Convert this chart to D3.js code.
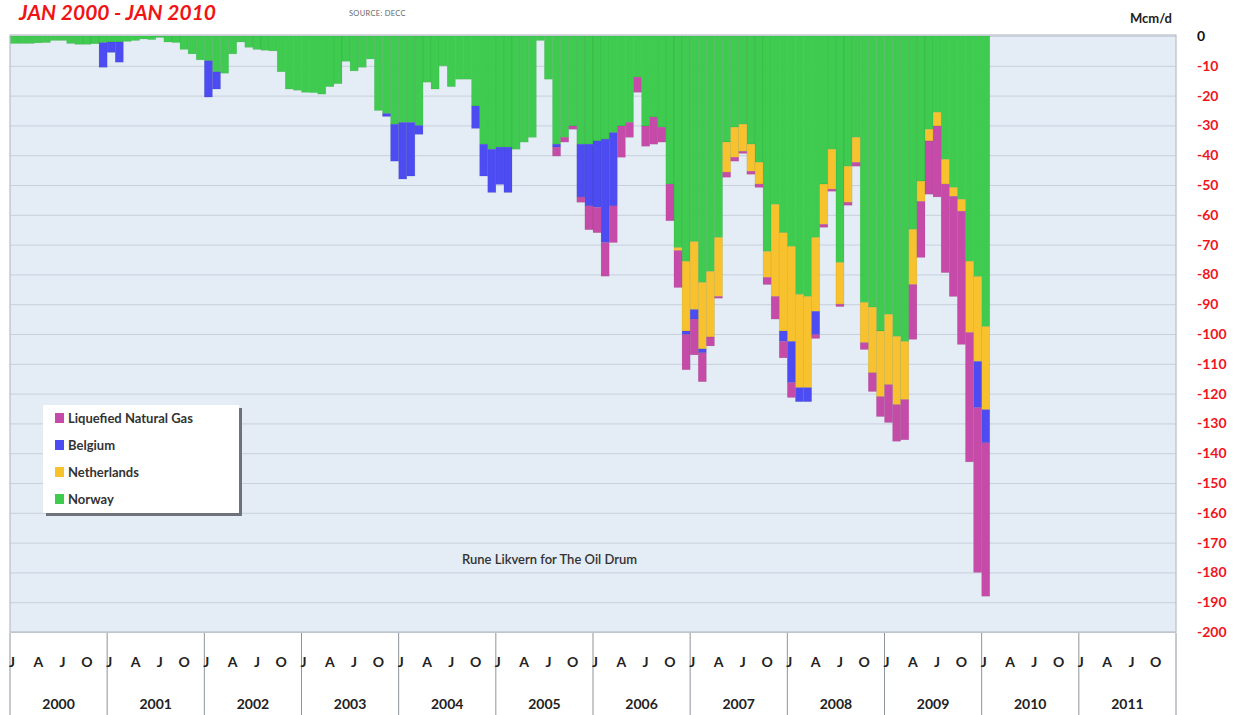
<!DOCTYPE html>
<html><head><meta charset="utf-8">
<script src="https://cdn.jsdelivr.net/npm/d3@7"></script>
<style>
body{margin:0;background:#fff;}
svg{display:block;font-family:Lato,"Open Sans","Liberation Sans",sans-serif;}
</style>
</head><body>
<svg id="c" width="1239" height="715"></svg>
<script>
// ---------- data ----------
const years = ["2000","2001","2002","2003","2004","2005","2006","2007","2008","2009","2010","2011"];
const monthLetters = ["J","","","A","","","J","","","O","",""];
const yTicks = [0,-10,-20,-30,-40,-50,-60,-70,-80,-90,-100,-110,-120,-130,-140,-150,-160,-170,-180,-190,-200];
const seriesNames = ["Norway","Netherlands","Belgium","Liquefied Natural Gas"];
const legendOrder = ["Liquefied Natural Gas","Belgium","Netherlands","Norway"];

// Monthly values Jan 2000 - Jan 2010 (Mcm/d)
const norway = [
 -2.5,-2.5,-2.5,-2.3,-2.2,-1.5,-1.5,-2.5,-2.8,-2.8,-2.6,-2.2,
 -2.0,-2.0,-1.8,-1.5,-1.0,-1.2,-0.5,-2.0,-2.2,-4.5,-6.0,-8.0,
 -8.3,-12.0,-12.5,-6.0,-2.0,-3.8,-4.5,-4.8,-5.0,-12.0,-17.8,-18.2,
 -18.9,-19.0,-19.5,-17.0,-16.0,-8.5,-11.7,-10.5,-7.7,-25.0,-26.0,-29.6,
 -29.0,-29.0,-30.0,-15.5,-17.8,-10.0,-17.0,-14.5,-14.5,-23.5,-36.3,-38.0,
 -37.3,-37.3,-38.0,-35.6,-34.0,-1.5,-14.5,-36.3,-34.0,-30.2,-36.3,-36.3,
 -35.2,-34.6,-32.4,-30.2,-29.0,-13.8,-30.2,-27.2,-30.6,-49.7,-71.0,-75.6,
 -69.0,-82.7,-79.0,-67.6,-35.6,-30.6,-29.6,-36.3,-42.4,-72.3,-56.5,-66.0,
 -70.6,-86.7,-87.4,-67.6,-49.7,-38.0,-76.0,-43.7,-34.0,-89.4,-91.0,-99.0,
 -93.4,-100.8,-102.5,-64.9,-48.7,-31.3,-25.6,-41.4,-50.8,-54.8,-75.6,-80.7,
 -97.5
];
const netherlands = [
 0,0,0,0,0,0,0,0,0,0,0,0,
 0,0,0,0,0,0,0,0,0,0,0,0,
 0,0,0,0,0,0,0,0,0,0,0,0,
 0,0,0,0,0,0,0,0,0,0,0,0,
 0,0,0,0,0,0,0,0,0,0,0,0,
 0,0,0,0,0,0,0,0,0,0,0,0,
 0,0,0,0,0,0,0,0,0,0,-1.0,-23.4,
 -22.8,-22.3,-22.0,-19.8,-10.1,-10.1,-9.1,-9.1,-7.3,-8.7,-30.9,-33.0,
 -31.9,-31.3,-30.6,-24.8,-13.5,-13.4,-14.0,-12.1,-8.4,-13.5,-22.0,-22.0,
 -23.6,-22.9,-19.5,-18.5,-6.8,-3.9,-4.6,-8.3,-3.0,-4.0,-23.9,-28.5,
 -27.9
];
const belgium = [
 0,0,0,0,0,0,0,0,0,0,0,-8.3,
 -3.5,-6.8,0,0,0,0,0,0,0,0,0,0,
 -12.2,-5.8,0,0,0,0,0,0,0,0,0,0,
 0,0,0,0,0,0,0,0,0,0,-1.0,-12.4,
 -19.0,-18.0,-3.0,0,0,0,0,0,0,-7.5,-10.7,-14.5,
 -12.5,-15.2,0,0,0,0,0,-1.0,0,0,-17.7,-20.7,
 -22.3,-34.7,-24.6,0,0,0,0,0,0,0,0,-1.2,
 -3.2,-1.3,0,0,0,0,0,0,0,0,0,-3.5,
 -13.8,-4.7,-4.7,-7.8,0,0,0,0,0,0,0,0,
 0,0,0,0,0,0,0,0,0,0,0,-15.5,
 -11.1
];
const lng = [
 0,0,0,0,0,0,0,0,0,0,0,0,
 0,0,0,0,0,0,0,0,0,0,0,0,
 0,0,0,0,0,0,0,0,0,0,0,0,
 0,0,0,0,0,0,0,0,0,0,0,0,
 0,0,0,0,0,0,0,0,0,0,0,0,
 0,0,0,0,0,0,0,-3.0,-1.6,-1.1,-1.8,-8.0,
 -8.5,-11.3,-12.3,-10.5,-5.0,-5.1,-6.8,-9.1,-5.0,-12.3,-12.4,-11.8,
 -12.0,-9.7,-3.0,-0.6,-1.7,-1.3,-0.7,-1.0,-1.1,-2.4,-7.6,-5.5,
 -5.0,0,0,-1.3,-1.0,-0.7,-0.8,-1.0,-1.3,-2.3,-6.3,-6.7,
 -12.7,-12.3,-13.5,-18.4,-18.8,-17.9,-23.8,-29.7,-33.6,-44.7,-43.4,-55.3,
 -51.5
];

// ---------- layout ----------
const W = 1239, H = 715;
const L = 10, R = 1176, T = 36, B = 632;
const colors = {
  "Norway": "#3ECB4F",
  "Netherlands": "#F7C22D",
  "Belgium": "#4C4CF2",
  "Liquefied Natural Gas": "#C64BA9"
};

const svg = d3.select("#c");

const allMonths = [];
years.forEach(y => { for (let m = 0; m < 12; m++) allMonths.push(y + "-" + m); });

const rows = norway.map((v, i) => ({
  month: allMonths[i],
  "Norway": v,
  "Netherlands": netherlands[i],
  "Belgium": belgium[i],
  "Liquefied Natural Gas": lng[i]
}));

const x = d3.scaleBand().domain(allMonths).range([L, R]).padding(0);
const y = d3.scaleLinear().domain([0, -200]).range([T, B]);

// plot background
svg.append("rect").attr("x", L).attr("y", T - 1).attr("width", R - L).attr("height", B - T + 1)
  .attr("fill", "#E4ECF6");

// gridlines
svg.append("g").attr("transform", `translate(${L},0)`)
  .call(d3.axisLeft(y).tickValues(yTicks).tickSize(-(R - L)).tickFormat(""))
  .call(g => g.select(".domain").remove())
  .call(g => g.selectAll("line").attr("stroke", "#C7D0DC").attr("stroke-width", 1));

// stacked bars
const stack = d3.stack().keys(seriesNames).offset(d3.stackOffsetDiverging);
const layers = stack(rows);
svg.append("g").selectAll("g").data(layers).join("g")
  .attr("fill", d => colors[d.key])
  .selectAll("rect").data(d => d.filter(s => s[0] !== s[1])).join("rect")
  .attr("x", d => x(d.data.month))
  .attr("width", x.bandwidth())
  .attr("y", d => Math.min(y(d[0]), y(d[1])))
  .attr("height", d => Math.abs(y(d[1]) - y(d[0])))
  .attr("stroke", "rgba(0,50,0,0.12)")
  .attr("stroke-width", 0.6);

// plot border
svg.append("rect").attr("x", L).attr("y", T - 1).attr("width", R - L).attr("height", B - T + 1)
  .attr("fill", "none").attr("stroke", "#B8BEC6").attr("stroke-width", 1.2);

// right y axis labels
svg.append("g").attr("transform", `translate(1197,0)`)
  .call(d3.axisRight(y).tickValues(yTicks).tickSize(0).tickPadding(0).tickFormat(d => d))
  .call(g => g.select(".domain").remove())
  .call(g => g.selectAll("text")
    .attr("font-size", 14).attr("font-weight", 700)
    .attr("font-family", "Lato, 'Open Sans', sans-serif")
    .attr("fill", d => d === 0 ? "#111" : "#F0141E"));

// x axis area
const yearW = (R - L) / years.length;
const xa = svg.append("g");
for (let i = 0; i <= years.length; i++) {
  xa.append("line").attr("x1", L + i * yearW).attr("x2", L + i * yearW)
    .attr("y1", B + 1).attr("y2", H).attr("stroke", "#8E949B").attr("stroke-width", 1);
}
allMonths.forEach((mk, i) => {
  const letter = monthLetters[i % 12];
  if (!letter) return;
  xa.append("text").attr("x", x(mk) + x.bandwidth() / 2 - (i % 12 === 0 ? 2 : 0)).attr("y", 667)
    .attr("text-anchor", "middle").attr("font-size", 14).attr("font-weight", 700).attr("fill", "#222")
    .text(letter);
});
years.forEach((yr, i) => {
  xa.append("text").attr("x", L + (i + 0.5) * yearW).attr("y", 709)
    .attr("text-anchor", "middle").attr("font-size", 14).attr("font-weight", 700).attr("fill", "#222")
    .text(yr);
});

// titles
svg.append("text").attr("x", 19).attr("y", 20).attr("font-size", 21).attr("font-weight", 700)
  .attr("font-style", "italic").attr("fill", "#F01414").text("JAN 2000 - JAN 2010");
svg.append("text").attr("x", 349).attr("y", 16).attr("font-size", 7.5).attr("fill", "#666")
  .attr("letter-spacing", 0.3).text("SOURCE: DECC");
svg.append("text").attr("x", 1172).attr("y", 23).attr("text-anchor", "end").attr("font-size", 13)
  .attr("font-weight", 700).attr("fill", "#222").text("Mcm/d");

// legend
const lg = svg.append("g");
lg.append("rect").attr("x", 46).attr("y", 408).attr("width", 196).attr("height", 108).attr("fill", "#6E737A");
lg.append("rect").attr("x", 43).attr("y", 405).attr("width", 196).attr("height", 108).attr("fill", "#fff");
legendOrder.forEach((name, i) => {
  const cy = 418 + i * 27;
  lg.append("rect").attr("x", 55).attr("y", cy - 5).attr("width", 9).attr("height", 10).attr("fill", colors[name]);
  lg.append("text").attr("x", 68).attr("y", cy + 5).attr("font-size", 13).attr("font-weight", 700)
    .attr("fill", "#333").text(name);
});

// watermark
svg.append("text").attr("x", 462).attr("y", 564).attr("font-size", 13).attr("font-weight", 600)
  .attr("fill", "#333").text("Rune Likvern for The Oil Drum");
</script>
</body></html>
